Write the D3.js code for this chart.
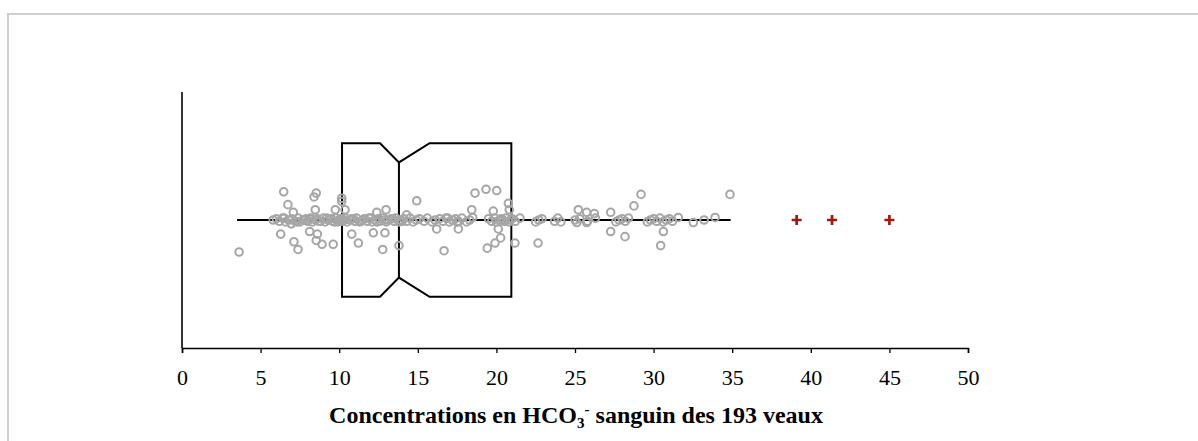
<!DOCTYPE html>
<html><head><meta charset="utf-8">
<script src="https://cdn.jsdelivr.net/npm/d3@7"></script>
<style>
html,body{margin:0;padding:0;background:#fff;}
svg{display:block;}
</style></head>
<body>
<svg id="chart" width="1198" height="441"></svg>
<script>
// ---- data ----
// points off the central line: value and vertical jitter (in [-1,1] band units)
const offValues = [3.63,6.47,6.74,7.08,6.95,6.28,7.12,7.38,8.40,8.54,8.48,8.12,8.61,8.54,8.91,9.62,9.75,10.16,10.16,10.37,
  10.80,11.22,12.17,12.39,12.98,12.91,12.77,13.80,14.93,14.29,16.20,17.58,16.67,18.64,19.34,20.02,18.43,18.49,19.80,20.12,
  20.27,19.91,19.42,20.76,20.82,21.18,22.65,25.21,25.74,26.23,25.11,25.74,27.27,27.27,28.18,28.75,29.20,30.62,30.45,31.57,
  32.53,33.21,33.91,34.86];
const offJitter = [-0.25,0.22,0.12,0.06,-0.03,-0.11,-0.17,-0.23,0.18,0.21,0.08,-0.09,-0.11,-0.16,-0.19,-0.19,0.08,0.17,0.145,0.08,
  -0.11,-0.18,-0.10,0.06,0.08,-0.10,-0.23,-0.20,0.15,0.04,-0.07,-0.07,-0.24,0.21,0.24,0.23,0.08,0.02,0.07,-0.07,
  -0.14,-0.18,-0.22,0.13,0.08,-0.18,-0.18,0.08,0.06,0.05,-0.02,-0.02,0.06,-0.09,-0.13,0.11,0.20,-0.09,-0.20,0.02,
  -0.02,0.0,0.02,0.20];
// points lying on the central line
const lineValues = [5.8,6.0,6.2,6.4,6.6,6.8,7.0,7.2,7.4,7.5,7.7,7.9,8.0,8.2,8.3,8.5,8.6,8.8,9.0,9.1,9.3,9.5,9.6,9.8,9.9,10.0,10.1,10.2,
  10.4,10.5,10.7,10.8,11.0,11.1,11.3,11.5,11.6,11.8,12.0,12.1,12.3,12.5,12.6,12.8,13.0,13.1,13.3,13.5,13.6,13.8,
  13.9,14.1,14.3,14.5,14.7,14.9,15.1,15.4,15.6,15.9,
  16.1,16.4,16.6,16.8,17.0,17.2,17.4,17.6,17.8,18.1,18.3,
  19.5,19.7,19.9,20.0,20.2,20.3,20.5,20.6,20.8,20.9,21.0,21.2,21.5,
  22.5,22.7,22.9,23.7,23.9,24.1,25.0,25.3,25.8,26.3,
  27.6,27.8,28.0,28.2,28.4,29.6,29.8,30.0,30.2,30.4,30.6,30.8,31.0,31.2,
  6.5,7.3,7.8,8.1,8.7,9.2,9.7,10.3,10.9,11.4,11.9,12.4,12.9,13.4,14.0,16.9,17.5,20.4];
const lineJitter = lineValues.map((v,i)=>[0,0.01,-0.01,0.015,-0.015][i%5]);
const outliers = [39.1, 41.35, 45.0];
// box statistics
const stats = {whiskerLo:3.5, q1:10.18, notchLo:12.6, median:13.8, notchHi:15.75, q3:20.95, whiskerHi:34.9};
const xTicks = [0,5,10,15,20,25,30,35,40,45,50];

// ---- layout ----
const svg = d3.select('#chart');
const M = {left:182, right:968, top:92, bottom:348};
const x = d3.scaleLinear().domain([0,50]).range([M.left, M.right]);
const y = d3.scaleLinear().domain([-1,1]).range([M.bottom, M.top]);
const boxHalf = 0.6, notchHalf = 0.45;
const serif = '"Liberation Serif", "Times New Roman", serif';

// frame
svg.append('path').attr('d','M8,441 V14 H1198').attr('fill','none').attr('stroke','#cfcfcf').attr('stroke-width',2);

// axes
svg.append('line').attr('x1',x(0)).attr('x2',x(0)).attr('y1',M.top).attr('y2',M.bottom)
  .attr('stroke','#000').attr('stroke-width',1.6);
const xAxis = d3.axisBottom(x).tickValues(xTicks).tickSize(5).tickPadding(16).tickFormat(d3.format('d'));
const gx = svg.append('g').attr('transform',`translate(0,${M.bottom})`).call(xAxis);
gx.select('.domain').attr('stroke','#000').attr('stroke-width',1.6);
gx.selectAll('.tick line').attr('stroke','#000').attr('stroke-width',1.3);
gx.selectAll('.tick text').attr('fill','#000').style('font-family',serif).style('font-size','22px');

// whisker line
svg.append('line').attr('x1',x(stats.whiskerLo)).attr('x2',x(stats.whiskerHi)).attr('y1',y(0)).attr('y2',y(0))
  .attr('stroke','#000').attr('stroke-width',2);

// notched box
const p = d3.path();
p.moveTo(x(stats.q1), y(boxHalf));
p.lineTo(x(stats.notchLo), y(boxHalf));
p.lineTo(x(stats.median), y(notchHalf));
p.lineTo(x(stats.notchHi), y(boxHalf));
p.lineTo(x(stats.q3), y(boxHalf));
p.lineTo(x(stats.q3), y(-boxHalf));
p.lineTo(x(stats.notchHi), y(-boxHalf));
p.lineTo(x(stats.median), y(-notchHalf));
p.lineTo(x(stats.notchLo), y(-boxHalf));
p.lineTo(x(stats.q1), y(-boxHalf));
p.closePath();
svg.append('path').attr('d',p.toString()).attr('fill','none').attr('stroke','#000').attr('stroke-width',2);
svg.append('line').attr('x1',x(stats.median)).attr('x2',x(stats.median)).attr('y1',y(notchHalf)).attr('y2',y(-notchHalf))
  .attr('stroke','#000').attr('stroke-width',2);

// points
const pts = lineValues.map((v,i)=>({v, j:lineJitter[i]})).concat(offValues.map((v,i)=>({v, j:offJitter[i]})));
svg.append('g').selectAll('circle').data(pts).join('circle')
  .attr('cx',d=>x(d.v)).attr('cy',d=>y(d.j)).attr('r',3.8)
  .attr('fill','none').attr('stroke','#a6a6a6').attr('stroke-width',2);

// outliers
svg.append('g').selectAll('path').data(outliers).join('path')
  .attr('transform',d=>`translate(${x(d)},${y(0)})`)
  .attr('d', d3.symbol().type({draw(ctx,s){const h=5;ctx.moveTo(-h,0);ctx.lineTo(h,0);ctx.moveTo(0,-h);ctx.lineTo(0,h);}}).size(1)())
  .attr('stroke','#9e1a0e').attr('stroke-width',2.7).attr('fill','none');

// title
const t = svg.append('text').attr('x',576).attr('y',423).attr('text-anchor','middle')
  .style('font-family',serif).style('font-size','24px').style('font-weight','bold').attr('fill','#000');
t.append('tspan').text('Concentrations en HCO');
t.append('tspan').text('3').attr('dy',5).style('font-size','15px');
t.append('tspan').text('-').attr('dy',-14).style('font-size','15px');
t.append('tspan').text(' sanguin des 193 veaux').attr('dy',9);
</script>
</body></html>
